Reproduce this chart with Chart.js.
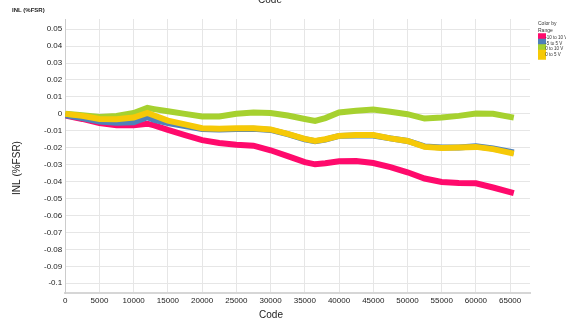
<!DOCTYPE html>
<html lang="en">
<head>
  <meta charset="UTF-8">
  <title>INL vs Code</title>
  <script src="https://cdn.jsdelivr.net/npm/chart.js"></script>
  <style>
    html, body { margin: 0; padding: 0; background: #fff; }
    #inlChart { display: block; }
  </style>
</head>
<body>
  <canvas id="inlChart" width="566" height="322"></canvas>
  <script>
    // codes sampled along the 16-bit range
    const codes = [0, 2500, 5000, 7500, 10000, 12000, 13000, 15000, 17500, 20000, 22500, 25000, 27500, 30000,
      32500, 35000, 36500, 38000, 40000, 42500, 45000, 47500, 50000, 52500, 55000, 57500, 60000, 62500, 65535];

    const rangeNames = ['-10 to 10 V', '-5 to 5 V', '0 to 10 V', '0 to 5 V'];

    const inlPm10 = [-0.001, -0.003, -0.0055, -0.0068, -0.0068, -0.0058, -0.0068, -0.0095, -0.0125, -0.0155, -0.0172,
      -0.0182, -0.0188, -0.0215, -0.025, -0.0285, -0.0298, -0.0292, -0.028, -0.0278, -0.029, -0.0315, -0.0345,
      -0.0382, -0.0402, -0.0408, -0.041, -0.0435, -0.0468];
    const inlPm5 = [-0.0008, -0.0025, -0.0045, -0.0052, -0.005, -0.002, -0.0035, -0.0055, -0.0072, -0.009, -0.0092,
      -0.009, -0.0088, -0.0095, -0.012, -0.015, -0.0162, -0.0152, -0.013, -0.0128, -0.0128, -0.0145, -0.016,
      -0.0192, -0.0198, -0.0198, -0.0192, -0.0205, -0.0228];
    const inl0to10 = [0, -0.0008, -0.0018, -0.0012, 0.0005, 0.0035, 0.0028, 0.0015, 0, -0.0015, -0.0015,
      0, 0.0008, 0.0005, -0.001, -0.003, -0.0042, -0.0025, 0.0008, 0.0018, 0.0025, 0.0012, -0.0002,
      -0.0028, -0.0022, -0.0012, 0.0002, 0, -0.0022];
    const inl0to5 = [0, -0.0012, -0.003, -0.0032, -0.0022, 0.0005, -0.001, -0.004, -0.0062, -0.0085, -0.0088,
      -0.0085, -0.0085, -0.0092, -0.0118, -0.0148, -0.016, -0.015, -0.013, -0.0125, -0.0125, -0.0145, -0.016,
      -0.0195, -0.0202, -0.0198, -0.0195, -0.0208, -0.0235];

    const xTicks = [0, 5000, 10000, 15000, 20000, 25000, 30000, 35000, 40000, 45000, 50000, 55000, 60000, 65000];
    const yTicks = [0.05, 0.04, 0.03, 0.02, 0.01, 0, -0.01, -0.02, -0.03, -0.04, -0.05, -0.06, -0.07, -0.08, -0.09, -0.1];

    const seriesValues = [inlPm10, inlPm5, inl0to10, inl0to5];
    const colors = ['#ff0a6c', '#4f81b9', '#a6d12f', '#f6c907'];
    // last one drawn on top, like the original plot
    const drawOrder = [4, 3, 2, 1];

    const datasets = rangeNames.map((name, i) => ({
      label: name,
      data: codes.map((c, j) => ({ x: c, y: seriesValues[i][j] })),
      borderColor: colors[i],
      backgroundColor: colors[i],
      borderWidth: 6,
      pointRadius: 0,
      tension: 0,
      order: drawOrder[i]
    }));

    const font = '"Liberation Sans", Arial, sans-serif';

    // axis titles and the small header texts (placed like in the original export)
    const extraTexts = {
      id: 'extraTexts',
      afterLayout(chart) {
        // leave a small gap between plot and legend
        chart.legend.left += 8;
        chart.legend.right += 8;
      },
      afterDraw(chart) {
        const ctx = chart.ctx;
        ctx.save();
        ctx.fillStyle = '#222';
        ctx.textAlign = 'center';
        ctx.textBaseline = 'middle';
        ctx.font = '10px ' + font;
        ctx.fillText('Code', 270, 0);
        ctx.fillText('Code', 271, 315);
        ctx.save();
        ctx.translate(17, 168);
        ctx.rotate(-Math.PI / 2);
        ctx.fillText('INL (%FSR)', 0, 0);
        ctx.restore();
        ctx.textAlign = 'left';
        ctx.font = 'bold 6px ' + font;
        ctx.fillText('INL (%FSR)', 12, 10);
        ctx.restore();
      }
    };

    new Chart(document.getElementById('inlChart'), {
      type: 'line',
      data: { datasets: datasets },
      plugins: [extraTexts],
      options: {
        responsive: false,
        animation: false,
        devicePixelRatio: 1,
        layout: { padding: { top: 19, left: 41, right: 0, bottom: 13 } },
        plugins: {
          tooltip: { enabled: false },
          legend: {
            position: 'right',
            align: 'start',
            reverse: true,
            maxWidth: 36,
            title: {
              display: true,
              text: ['Color by', 'Range'],
              position: 'start',
              color: '#333',
              font: { family: font, size: 5, lineHeight: 1.4 },
              padding: { top: 2, bottom: 7 }
            },
            labels: {
              boxWidth: 4,
              boxHeight: 4,
              padding: 1,
              color: '#333',
              font: { family: font, size: 4.5 }
            }
          }
        },
        scales: {
          x: {
            type: 'linear',
            min: 0,
            max: 67900,
            afterBuildTicks: axis => { axis.ticks = xTicks.map(v => ({ value: v })); },
            ticks: {
              maxRotation: 0,
              autoSkip: false,
              color: '#222',
              font: { family: font, size: 8 },
              padding: 3,
              callback: v => String(v)
            },
            grid: { color: '#e6e6e6', drawTicks: false },
            border: { color: '#d6d6d6', width: 2 }
          },
          y: {
            type: 'linear',
            min: -0.106,
            max: 0.056,
            afterBuildTicks: axis => { axis.ticks = yTicks.map(v => ({ value: v })); },
            ticks: {
              autoSkip: false,
              color: '#222',
              font: { family: font, size: 8 },
              padding: 3,
              callback: v => String(Number(v.toFixed(3)))
            },
            grid: { color: '#e6e6e6', drawTicks: false },
            border: { color: '#cccccc', width: 1 }
          }
        }
      }
    });
  </script>
</body>
</html>
